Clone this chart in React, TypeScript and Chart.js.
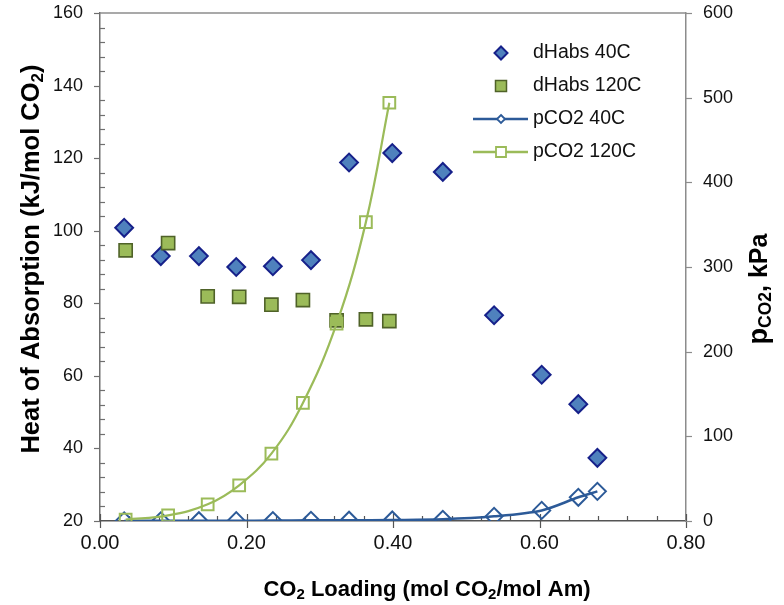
import React, { useEffect, useRef } from 'react';
import { Chart, registerables } from 'chart.js';
Chart.register(...registerables);

const FAMILY = '"Liberation Sans", Arial, Helvetica, sans-serif';

// CO2 loading (mol CO2/mol Am) for the 40C data
const loading40 = [0.033, 0.083, 0.135, 0.186, 0.236, 0.288, 0.340, 0.399, 0.468, 0.538, 0.603, 0.653, 0.679];
const dHabs40 = [100.8, 93.0, 93.0, 90.0, 90.2, 91.9, 118.8, 121.4, 116.2, 76.7, 60.3, 52.2, 37.4];
const pco2_40 = [0.1, 0.2, 0.3, 0.4, 0.5, 0.8, 0.9, 1.2, 2.0, 5.5, 12.5, 28, 35];

// CO2 loading for the 120C data
const loading120 = [0.035, 0.093, 0.147, 0.190, 0.234, 0.277, 0.323, 0.363, 0.395];
const dHabs120 = [94.6, 96.6, 81.9, 81.8, 79.6, 80.9, 75.3, 75.6, 75.1];
const pco2_120 = [1.7, 6.7, 19.7, 42.2, 79.6, 139.4, 233, 353, 494];

const seriesLabels = ['dHabs 40C', 'dHabs 120C', 'pCO2 40C', 'pCO2 120C'];

const xRange = [0, 0.8];
const xStep = 0.2;
const yRange = [20, 160];
const yStep = 20;
const y2Range = [0, 600];
const y2Step = 100;

const BLUE_FILL = '#4F81BD';
const BLUE_EDGE = '#16208A';
const GREEN_FILL = '#9BBB59';
const GREEN_EDGE = '#4F6228';
const BLUE_LINE = '#2C5A98';
const GREEN_LINE = '#9BBB59';

type Seg = { text: string; size: number; dy?: number };

function drawRich(ctx: CanvasRenderingContext2D, segs: Seg[], cx: number, cy: number, rotate: boolean) {
  ctx.save();
  ctx.translate(cx, cy);
  if (rotate) ctx.rotate(-Math.PI / 2);
  let total = 0;
  const widths: number[] = [];
  for (const s of segs) {
    ctx.font = `bold ${s.size}px ${FAMILY}`;
    const w = ctx.measureText(s.text).width;
    widths.push(w);
    total += w;
  }
  let x = -total / 2;
  ctx.textAlign = 'left';
  ctx.textBaseline = 'middle';
  ctx.fillStyle = '#000';
  segs.forEach((s, i) => {
    ctx.font = `bold ${s.size}px ${FAMILY}`;
    ctx.fillText(s.text, x, s.dy || 0);
    x += widths[i];
  });
  ctx.restore();
}

function diamond(ctx: CanvasRenderingContext2D, x: number, y: number, r: number) {
  ctx.beginPath();
  ctx.moveTo(x, y - r);
  ctx.lineTo(x + r, y);
  ctx.lineTo(x, y + r);
  ctx.lineTo(x - r, y);
  ctx.closePath();
}

const decorPlugin = {
  id: 'decor',
  beforeDatasetsDraw(chart: any) {
    const { ctx, chartArea: a, scales } = chart;
    const xs = scales.x;
    const ys = scales.y;
    const y2s = scales.y2;
    ctx.save();
    ctx.lineWidth = 1.5;
    // top frame line
    ctx.strokeStyle = '#8c8c8c';
    ctx.beginPath();
    ctx.moveTo(a.left, a.top);
    ctx.lineTo(a.right, a.top);
    ctx.stroke();
    // left axis ticks
    ctx.strokeStyle = '#6f6f6f';
    ctx.lineWidth = 1.2;
    for (let v = yRange[0]; v <= yRange[1] + 1e-9; v += 4) {
      const p = Math.round(ys.getPixelForValue(v)) + 0.5;
      ctx.beginPath();
      if (Math.abs(v % yStep) < 1e-6) {
        ctx.moveTo(a.left - 6, p);
        ctx.lineTo(a.left, p);
      } else {
        ctx.moveTo(a.left, p);
        ctx.lineTo(a.left + 5, p);
      }
      ctx.stroke();
    }
    // bottom axis ticks
    ctx.strokeStyle = '#555';
    for (let i = 0; i <= 20; i++) {
      const v = xRange[0] + i * 0.04;
      const p = Math.round(xs.getPixelForValue(v)) + 0.5;
      ctx.beginPath();
      if (i % 5 === 0) {
        ctx.moveTo(p, a.bottom - 7);
        ctx.lineTo(p, a.bottom + 7);
      } else {
        ctx.moveTo(p, a.bottom - 5);
        ctx.lineTo(p, a.bottom);
      }
      ctx.stroke();
    }
    // right axis ticks
    ctx.strokeStyle = '#8c8c8c';
    for (let v = y2Range[0]; v <= y2Range[1]; v += y2Step) {
      const p = Math.round(y2s.getPixelForValue(v)) + 0.5;
      ctx.beginPath();
      ctx.moveTo(a.right, p);
      ctx.lineTo(a.right + 6, p);
      ctx.stroke();
    }
    ctx.restore();
  },
  afterDraw(chart: any) {
    const { ctx } = chart;
    // axis titles
    drawRich(ctx, [
      { text: 'Heat of Absorption (kJ/mol CO', size: 25.5 },
      { text: '2', size: 17, dy: 6 },
      { text: ')', size: 25.5 },
    ], 32, 259, true);
    drawRich(ctx, [
      { text: 'p', size: 27 },
      { text: 'CO2', size: 17.5, dy: 6 },
      { text: ', kPa', size: 25 },
    ], 760, 289, true);
    drawRich(ctx, [
      { text: 'CO', size: 22 },
      { text: '2', size: 15, dy: 5 },
      { text: ' Loading (mol CO', size: 22 },
      { text: '2', size: 15, dy: 5 },
      { text: '/mol Am)', size: 22 },
    ], 427, 590, false);

    // legend
    ctx.save();
    const ys = [53, 86, 119, 152];
    const mx = 501;
    ctx.font = `19.5px ${FAMILY}`;
    ctx.fillStyle = '#111';
    ctx.textAlign = 'left';
    ctx.textBaseline = 'middle';
    seriesLabels.forEach((t, i) => ctx.fillText(t, 533, ys[i]));
    // dHabs 40C
    diamond(ctx, mx, ys[0], 6.5);
    ctx.fillStyle = BLUE_FILL;
    ctx.fill();
    ctx.strokeStyle = BLUE_EDGE;
    ctx.lineWidth = 2;
    ctx.stroke();
    // dHabs 120C
    ctx.beginPath();
    ctx.rect(mx - 5.5, ys[1] - 5.5, 11, 11);
    ctx.fillStyle = GREEN_FILL;
    ctx.fill();
    ctx.strokeStyle = GREEN_EDGE;
    ctx.lineWidth = 1.5;
    ctx.stroke();
    // pCO2 40C
    ctx.strokeStyle = BLUE_LINE;
    ctx.lineWidth = 2.5;
    ctx.beginPath();
    ctx.moveTo(473, ys[2]);
    ctx.lineTo(528, ys[2]);
    ctx.stroke();
    diamond(ctx, mx, ys[2], 4);
    ctx.fillStyle = '#fff';
    ctx.fill();
    ctx.lineWidth = 1.8;
    ctx.stroke();
    // pCO2 120C
    ctx.strokeStyle = GREEN_LINE;
    ctx.lineWidth = 2.5;
    ctx.beginPath();
    ctx.moveTo(473, ys[3]);
    ctx.lineTo(528, ys[3]);
    ctx.stroke();
    ctx.beginPath();
    ctx.rect(mx - 5, ys[3] - 5, 10, 10);
    ctx.fillStyle = '#fff';
    ctx.fill();
    ctx.lineWidth = 1.8;
    ctx.stroke();
    ctx.restore();
  },
};

export default function App() {
  const ref = useRef<HTMLCanvasElement | null>(null);
  useEffect(() => {
    document.body.style.margin = '0';
    document.body.style.overflow = 'hidden';
    const canvas = ref.current;
    if (!canvas) return;
    const chart = new Chart(canvas, {
      type: 'scatter',
      data: {
        datasets: [
          {
            label: seriesLabels[0],
            data: loading40.map((x, i) => ({ x, y: dHabs40[i] })),
            yAxisID: 'y',
            showLine: false,
            pointStyle: 'rectRot',
            pointRadius: 8.9,
            backgroundColor: BLUE_FILL,
            borderColor: BLUE_EDGE,
            borderWidth: 2,
            order: 4,
          },
          {
            label: seriesLabels[1],
            data: loading120.map((x, i) => ({ x, y: dHabs120[i] })),
            yAxisID: 'y',
            showLine: false,
            pointStyle: 'rect',
            pointRadius: 9.3,
            backgroundColor: GREEN_FILL,
            borderColor: GREEN_EDGE,
            borderWidth: 1.6,
            order: 3,
          },
          {
            label: seriesLabels[2],
            data: loading40.map((x, i) => ({ x, y: pco2_40[i] })),
            yAxisID: 'y2',
            showLine: true,
            tension: 0.3,
            borderColor: BLUE_LINE,
            borderWidth: 2.5,
            pointStyle: 'rectRot',
            pointRadius: 8.5,
            pointBackgroundColor: 'rgba(0,0,0,0)',
            pointBorderColor: BLUE_LINE,
            pointBorderWidth: 2,
            order: 2,
          },
          {
            label: seriesLabels[3],
            data: loading120.map((x, i) => ({ x, y: pco2_120[i] })),
            yAxisID: 'y2',
            showLine: true,
            tension: 0.4,
            borderColor: GREEN_LINE,
            borderWidth: 2.2,
            pointStyle: 'rect',
            pointRadius: 8.3,
            pointBackgroundColor: 'rgba(0,0,0,0)',
            pointBorderColor: GREEN_LINE,
            pointBorderWidth: 2,
            order: 1,
          },
        ],
      },
      options: {
        animation: false,
        responsive: false,
        maintainAspectRatio: false,
        layout: { padding: { top: 13, left: 0, right: 0, bottom: 0 } },
        plugins: {
          legend: { display: false },
          tooltip: { enabled: false },
        },
        scales: {
          x: {
            type: 'linear',
            position: 'bottom',
            min: xRange[0],
            max: xRange[1],
            ticks: {
              stepSize: xStep,
              callback: (v: any) => Number(v).toFixed(2),
              font: { size: 20, family: FAMILY },
              color: '#111',
              padding: 10,
              maxRotation: 0,
            },
            grid: { display: false, drawTicks: false },
            border: { color: '#555', width: 1.5 },
            afterFit: (s: any) => { s.height = 84; s.paddingLeft = 0; s.paddingRight = 0; },
          },
          y: {
            type: 'linear',
            position: 'left',
            min: yRange[0],
            max: yRange[1],
            ticks: {
              stepSize: yStep,
              font: { size: 18, family: FAMILY },
              color: '#111',
              padding: 17,
            },
            grid: { display: false, drawTicks: false },
            border: { color: '#6f6f6f', width: 1.5 },
            afterFit: (s: any) => { s.width = 100; s.paddingTop = 0; s.paddingBottom = 0; },
          },
          y2: {
            type: 'linear',
            position: 'right',
            min: y2Range[0],
            max: y2Range[1],
            ticks: {
              stepSize: y2Step,
              font: { size: 18, family: FAMILY },
              color: '#111',
              padding: 17,
            },
            grid: { display: false, drawTicks: false },
            border: { color: '#8c8c8c', width: 1.5 },
            afterFit: (s: any) => { s.width = 98; s.paddingTop = 0; s.paddingBottom = 0; },
          },
        },
      },
      plugins: [decorPlugin],
    } as any);
    return () => chart.destroy();
  }, []);
  return (
    <div style={{ width: 784, height: 605 }}>
      <canvas ref={ref} width={784} height={605} style={{ display: 'block' }} />
    </div>
  );
}
